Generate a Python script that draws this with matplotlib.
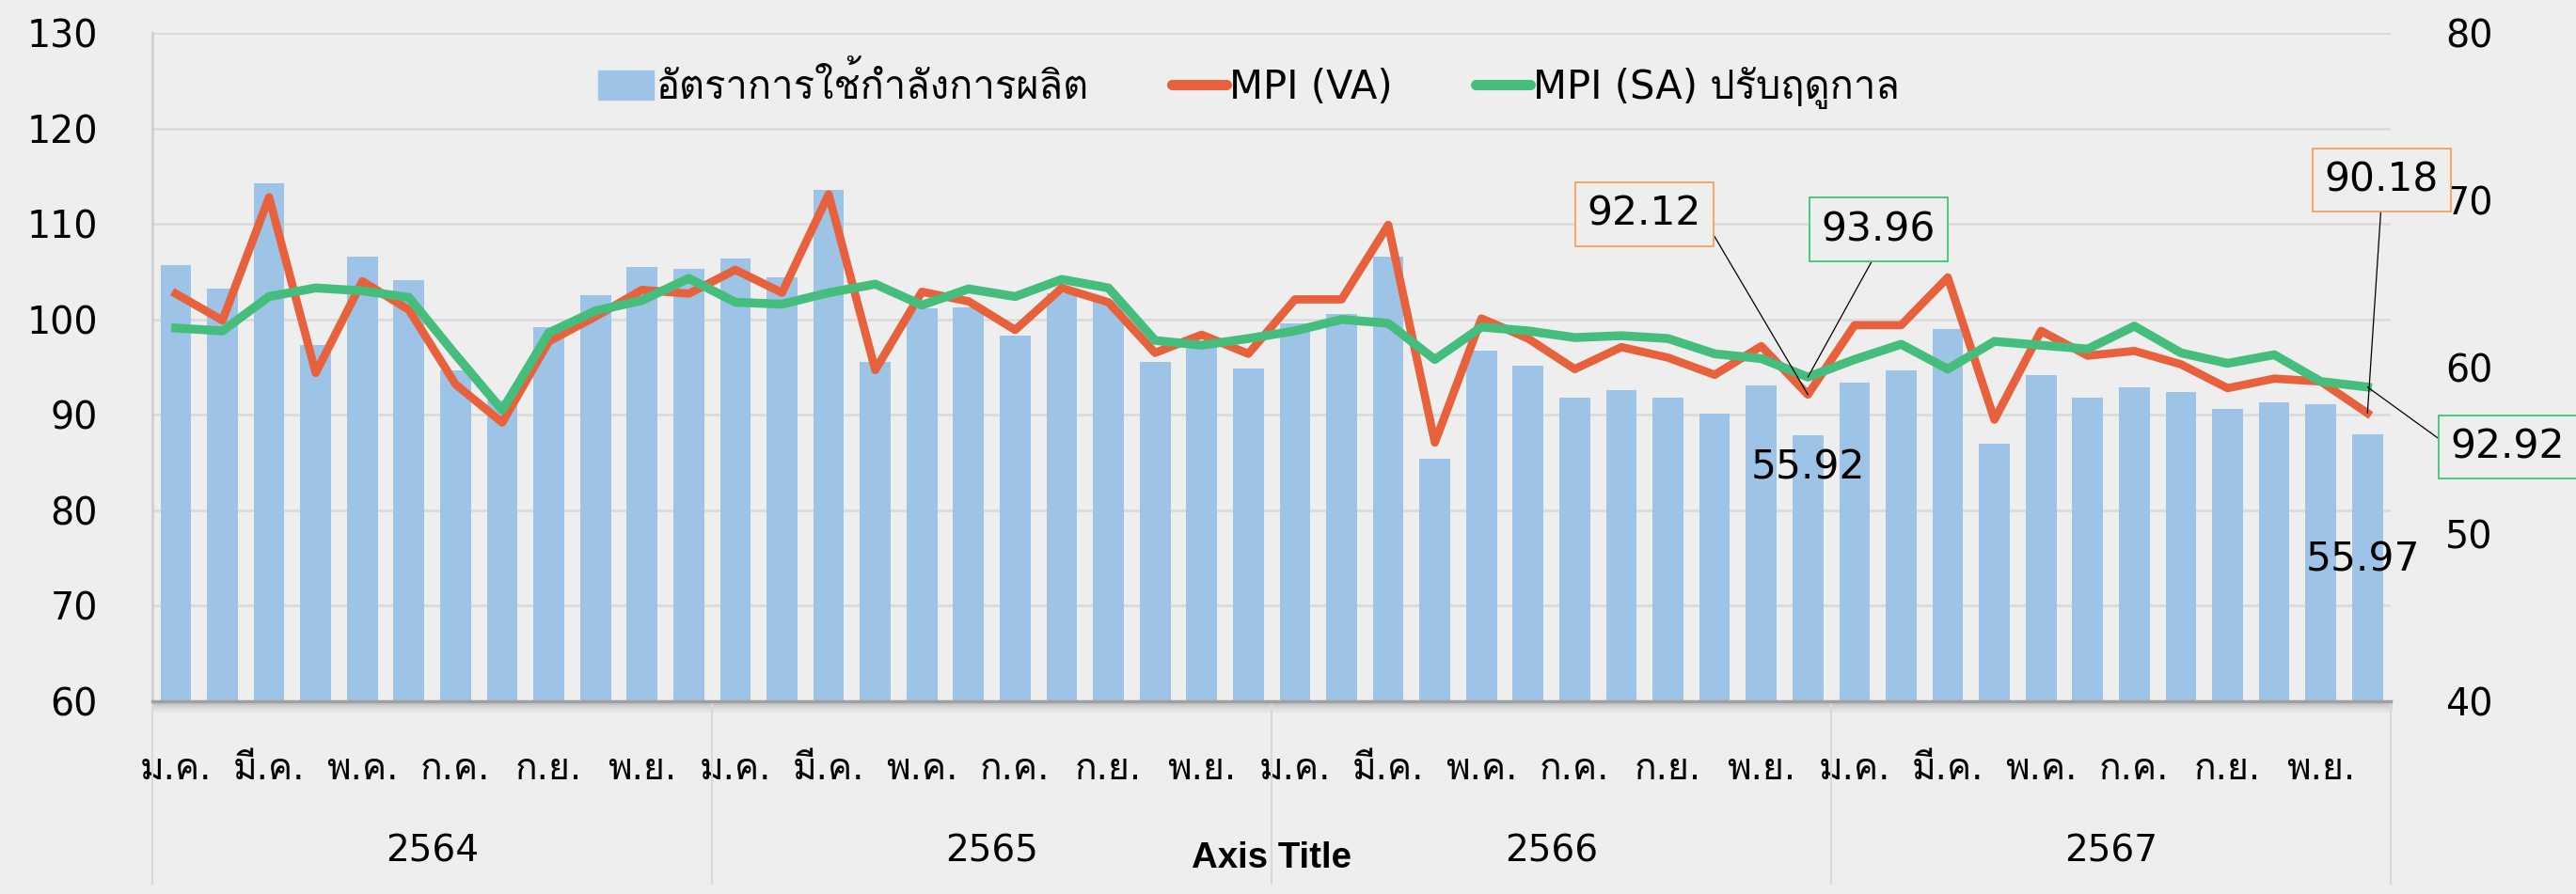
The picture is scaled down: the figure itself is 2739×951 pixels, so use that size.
import matplotlib
matplotlib.use("Agg")
import matplotlib.pyplot as plt
import matplotlib.transforms as mtransforms
from matplotlib import font_manager
from matplotlib.ft2font import FT2Font
from matplotlib.patches import Patch
from matplotlib.lines import Line2D
import numpy as np

# ---- data ----
years = ["2564", "2565", "2566", "2567"]
month_labels = ["ม.ค.", "มี.ค.", "พ.ค.", "ก.ค.", "ก.ย.", "พ.ย."]

# capacity utilisation (right axis)
cap_util = [66.1, 64.7, 71.0, 61.3, 66.6, 65.2, 59.8, 58.0, 62.4, 64.3, 66.0, 65.9,
            66.5, 65.4, 70.6, 60.3, 63.5, 63.6, 61.9, 64.4, 64.0, 60.3, 61.4, 59.9,
            62.6, 63.2, 66.6, 54.5, 61.0, 60.1, 58.2, 58.6, 58.2, 57.2, 58.9, 55.92,
            59.1, 59.8, 62.3, 55.4, 59.5, 58.2, 58.8, 58.5, 57.5, 57.9, 57.8, 55.97]

# MPI value added (left axis)
mpi_va = [102.7, 99.9, 112.8, 94.4, 104.0, 101.0, 93.2, 89.2, 97.7, 100.3, 103.1, 102.7,
          105.2, 102.8, 113.1, 94.7, 102.9, 101.9, 98.9, 103.3, 101.8, 96.5, 98.4, 96.4,
          102.1, 102.1, 109.9, 87.1, 100.1, 98.0, 94.8, 97.1, 96.0, 94.2, 97.2, 92.12,
          99.4, 99.4, 104.4, 89.5, 98.8, 96.2, 96.7, 95.3, 92.8, 93.8, 93.5, 90.18]

# MPI seasonally adjusted (left axis)
mpi_sa = [99.1, 98.8, 102.4, 103.3, 103.0, 102.3, 96.3, 90.5, 98.6, 100.9, 102.0, 104.3,
          101.8, 101.6, 102.8, 103.7, 101.5, 103.2, 102.4, 104.2, 103.3, 97.8, 97.3, 98.0,
          98.8, 100.0, 99.6, 95.8, 99.2, 98.8, 98.1, 98.3, 98.0, 96.4, 95.9, 93.96,
          95.8, 97.4, 94.8, 97.7, 97.3, 96.9, 99.3, 96.5, 95.4, 96.3, 93.5, 92.92]

BG = "#EEEEEE"
BAR_C = "#9DC3E6"
VA_C = "#E8613D"
SA_C = "#45BD7C"
GRID_C = "#D9D9D9"
BOX_OR = "#F9A05A"
BOX_GR = "#3CC878"


def find_thai_font():
    # pick any installed font that has Thai glyphs
    for f in font_manager.fontManager.ttflist:
        try:
            if 0x0E01 in FT2Font(f.fname).get_charmap():
                return f.name
        except Exception:
            pass
    return None


thai = find_thai_font()
families = ["DejaVu Sans"] + ([thai] if thai else [])
plt.rcParams["font.family"] = families

x = np.arange(len(cap_util))

fig = plt.figure(figsize=(27.39, 9.51), dpi=100, facecolor=BG)
ax = fig.add_axes([0.0592, 0.2156, 0.8689, 0.7474])
ax2 = ax.twinx()

# lines on left axis, bars on right axis -> bars behind
ax.set_zorder(2)
ax.patch.set_visible(False)
ax2.set_zorder(1)
ax2.set_facecolor(BG)

ax2.bar(x, cap_util, width=0.66, color=BAR_C, zorder=2)
ax.plot(x, mpi_va, color=VA_C, lw=6.3, zorder=3)
ax.plot(x, mpi_sa, color=SA_C, lw=6.8, zorder=4)

ax.set_xlim(-0.5, len(x) - 0.5)
ax.set_ylim(60, 130)
ax.set_yticks(np.arange(60, 131, 10))
ax2.set_ylim(40, 80)
ax2.set_yticks(np.arange(40, 81, 10))

# gridlines follow the left axis ticks
for y in np.arange(70, 131, 10):
    ax2.axhline(40 + (y - 60) * 40 / 70, color=GRID_C, lw=1.8, zorder=0)

for a in (ax, ax2):
    for s in a.spines.values():
        s.set_visible(False)
ax.spines["bottom"].set_visible(True)
ax.spines["bottom"].set_color("#A0A0A0")
ax.spines["bottom"].set_linewidth(2.5)
ax.spines["left"].set_visible(True)
ax.spines["left"].set_color("#D0D0D0")
ax.spines["left"].set_linewidth(2)

# soft shadow under the category axis
for k, c in enumerate(["#C4C4C4", "#D2D2D2", "#DDDDDD", "#E6E6E6"]):
    ax.axhline(60 - 0.25 * (k + 1), color=c, lw=2, clip_on=False, zorder=1)

ax.tick_params(axis="y", length=0, pad=42, labelsize=28.5)
ax2.tick_params(axis="y", length=0, pad=42, labelsize=28.5)

ax.set_xticks(x[::2])
ax.set_xticklabels(month_labels * len(years))
ax.tick_params(axis="x", length=0, pad=38, labelsize=28)

# year group labels and separators
trans = mtransforms.blended_transform_factory(ax.transData, ax.transAxes)
for i, yr in enumerate(years):
    ax.text(i * 12 + 5.5, -0.225, yr, transform=trans, ha="center", va="center",
            fontsize=28)
for b in np.arange(-0.5, len(x), 12):
    ax.plot([b, b], [0, -0.273], transform=trans, color=GRID_C, lw=1.5,
            clip_on=False)
ax.text(0.5, -0.235, "Axis Title", transform=ax.transAxes, ha="center",
        va="center", fontsize=27.7, fontweight="bold",
        family=["Liberation Sans", "DejaVu Sans"])

# legend
handles = [Patch(color=BAR_C),
           Line2D([], [], color=VA_C, lw=8, solid_capstyle="round"),
           Line2D([], [], color=SA_C, lw=8, solid_capstyle="round")]
labels = ["อัตราการใช้กำลังการผลิต", "MPI (VA)", "MPI (SA) ปรับฤดูกาล"]
ax.legend(handles, labels, loc="center", bbox_to_anchor=(0.49, 0.92), ncol=3,
          frameon=False, fontsize=30, handlelength=1.4, handletextpad=0.08,
          columnspacing=2.1, handleheight=0.75)


# callouts
def callout(axis, i, vals, txt, dx, dy, edge, rel):
    axis.annotate(txt, xy=(i, vals[i]), xytext=(dx, dy), textcoords="offset pixels",
                  ha="center", va="center", fontsize=30.5, zorder=6,
                  bbox=dict(boxstyle="square,pad=0.3", fc=BG, ec=edge, lw=1.3),
                  arrowprops=dict(arrowstyle="-", color="black", lw=0.9,
                                  shrinkA=0, shrinkB=0, relpos=rel))


last = len(x) - 1
callout(ax, 35, mpi_va, f"{mpi_va[35]:.2f}", -174, 192, BOX_OR, (1, 0.5))
callout(ax, 35, mpi_sa, f"{mpi_sa[35]:.2f}", 75, 157, BOX_GR, (0.5, 0))
callout(ax, last, mpi_va, f"{mpi_va[last]:.2f}", 15, 248, BOX_OR, (0.5, 0))
callout(ax, last, mpi_sa, f"{mpi_sa[last]:.2f}", 149, -64, BOX_GR, (0, 0.5))

ax2.annotate(f"{cap_util[35]:.2f}", xy=(35, cap_util[35]), xytext=(0, -34),
             textcoords="offset pixels", ha="center", va="center", fontsize=30.5)
ax2.annotate(f"{cap_util[last]:.2f}", xy=(last, cap_util[last]), xytext=(-5, -133),
             textcoords="offset pixels", ha="center", va="center", fontsize=30.5)

fig.savefig("out.png", dpi=100, facecolor=BG)
